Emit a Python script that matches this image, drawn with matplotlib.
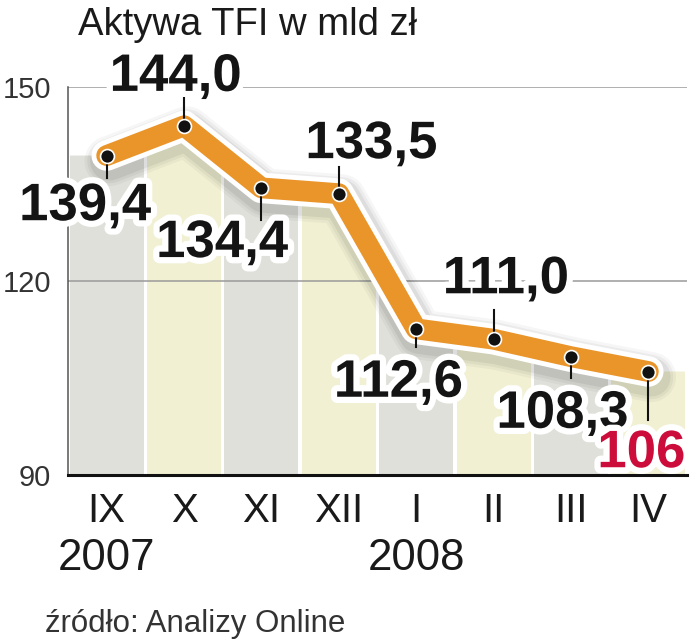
import matplotlib
matplotlib.use("Agg")
import matplotlib.pyplot as plt
import matplotlib.patheffects as pe
from matplotlib.patches import Polygon
import numpy as np

# ---- data ----
months = ["IX", "X", "XI", "XII", "I", "II", "III", "IV"]
years = ["2007", "2008"]
year_month_index = [0, 4]
values = [139.4, 144.0, 134.4, 133.5, 112.6, 111.0, 108.3, 106.0]
value_labels = ["139,4", "144,0", "134,4", "133,5", "112,6", "111,0", "108,3", "106"]
yticks = [90, 120, 150]
title = "Aktywa TFI w mld zł"
source = "źródło: Analizy Online"

# ---- layout (label centre x, label baseline y, leader end y) ----
label_x = [-0.28, 0.89, 1.49, 3.42, 3.77, 5.16, 5.89, 6.91]
label_base = [129.4, 149.4, 123.7, 139.0, 102.1, 118.1, 97.3, 91.2]
leader_end = [135.9, 148.3, 129.4, 137.6, 109.8, 115.5, 105.0, 98.5]
label_colors = ["#141414"] * 7 + ["#cc0c3a"]

W, H = 699, 640
fig = plt.figure(figsize=(W / 100, H / 100), dpi=100)
ax = fig.add_axes([68 / W, 1 - 475 / H, (687 - 68) / W, (475 - 87) / H])
ax.set_xlim(-0.5, len(values) - 0.5)
ax.set_ylim(90, 150)

x = np.arange(len(values))

# background bands clipped under the line
poly_pts = [(-0.5, 90), (-0.5, values[0])] + list(zip(x, values)) + \
           [(len(values) - 0.5, values[-1]), (len(values) - 0.5, 90)]
clip = Polygon(poly_pts, closed=True, transform=ax.transData, facecolor="none", edgecolor="none")
ax.add_patch(clip)
band_colors = ["#e0e0da", "#f1f0d3"]
bars = ax.bar(x, 60, bottom=90, width=0.955,
              color=[band_colors[i % 2] for i in range(len(values))], zorder=1)
for b in bars:
    b.set_clip_path(clip)

# gridlines
for yv in yticks[1:]:
    ax.axhline(yv, color="#9a9a9a", lw=1.1, zorder=2)

# line with white outline and soft shadow
shadow = [pe.SimpleLineShadow(offset=(2, -4), shadow_color="black", alpha=a, linewidth=w)
          for w, a in ((36, 0.035), (32, 0.045), (28, 0.06))]
ax.plot(x, values, color="#e9952a", lw=15, solid_joinstyle="round", solid_capstyle="round",
        zorder=4, clip_on=False,
        path_effects=shadow + [pe.Stroke(linewidth=22, foreground="white"), pe.Normal()])

# leader lines
for xi, v, e in zip(x, values, leader_end):
    ax.plot([xi, xi], [v, e], color="#111111", lw=1.5, zorder=5, clip_on=False)

# dots
ax.plot(x, values, "o", color="#111111", ms=10, mec="white", mew=1.2, zorder=6, clip_on=False)

# value labels
for lx, lb, txt, c in zip(label_x, label_base, value_labels, label_colors):
    ax.text(lx, lb, txt, ha="center", va="baseline", fontsize=38, fontweight="bold",
            family="Liberation Sans", color=c, zorder=7, clip_on=False,
            path_effects=[pe.withStroke(linewidth=9, foreground="white")])

# spines
for s in ("top", "right"):
    ax.spines[s].set_visible(False)
ax.spines["left"].set_color("#555555")
ax.spines["left"].set_linewidth(1.1)
ax.spines["left"].set_zorder(3)
ax.spines["bottom"].set_color("#111111")
ax.spines["bottom"].set_linewidth(2.2)
ax.spines["bottom"].set_zorder(3)

ax.set_yticks(yticks)
ax.set_yticklabels([str(t) for t in yticks], fontsize=21, family="Liberation Sans", color="#333333")
ax.set_xticks(x)
ax.set_xticklabels(months, fontsize=29, family="Liberation Sans", color="#1a1a1a")
ax.tick_params(axis="both", length=0)
ax.tick_params(axis="y", pad=12)
ax.tick_params(axis="x", pad=12)

for yi, yr in zip(year_month_index, years):
    ax.annotate(yr, xy=(yi, 90), xytext=(0, -45), textcoords="offset points",
                ha="center", va="top", fontsize=31.5, family="Liberation Sans", color="#1a1a1a",
                annotation_clip=False)

fig.text(78 / W, 1 - 35 / H, title, ha="left", va="baseline", fontsize=27.5,
         family="Liberation Sans", color="#1a1a1a")
fig.text(45 / W, 1 - 632 / H, source, ha="left", va="baseline", fontsize=22.5,
         family="Liberation Sans", color="#333333")

fig.savefig("out.png", dpi=100, facecolor="white")
